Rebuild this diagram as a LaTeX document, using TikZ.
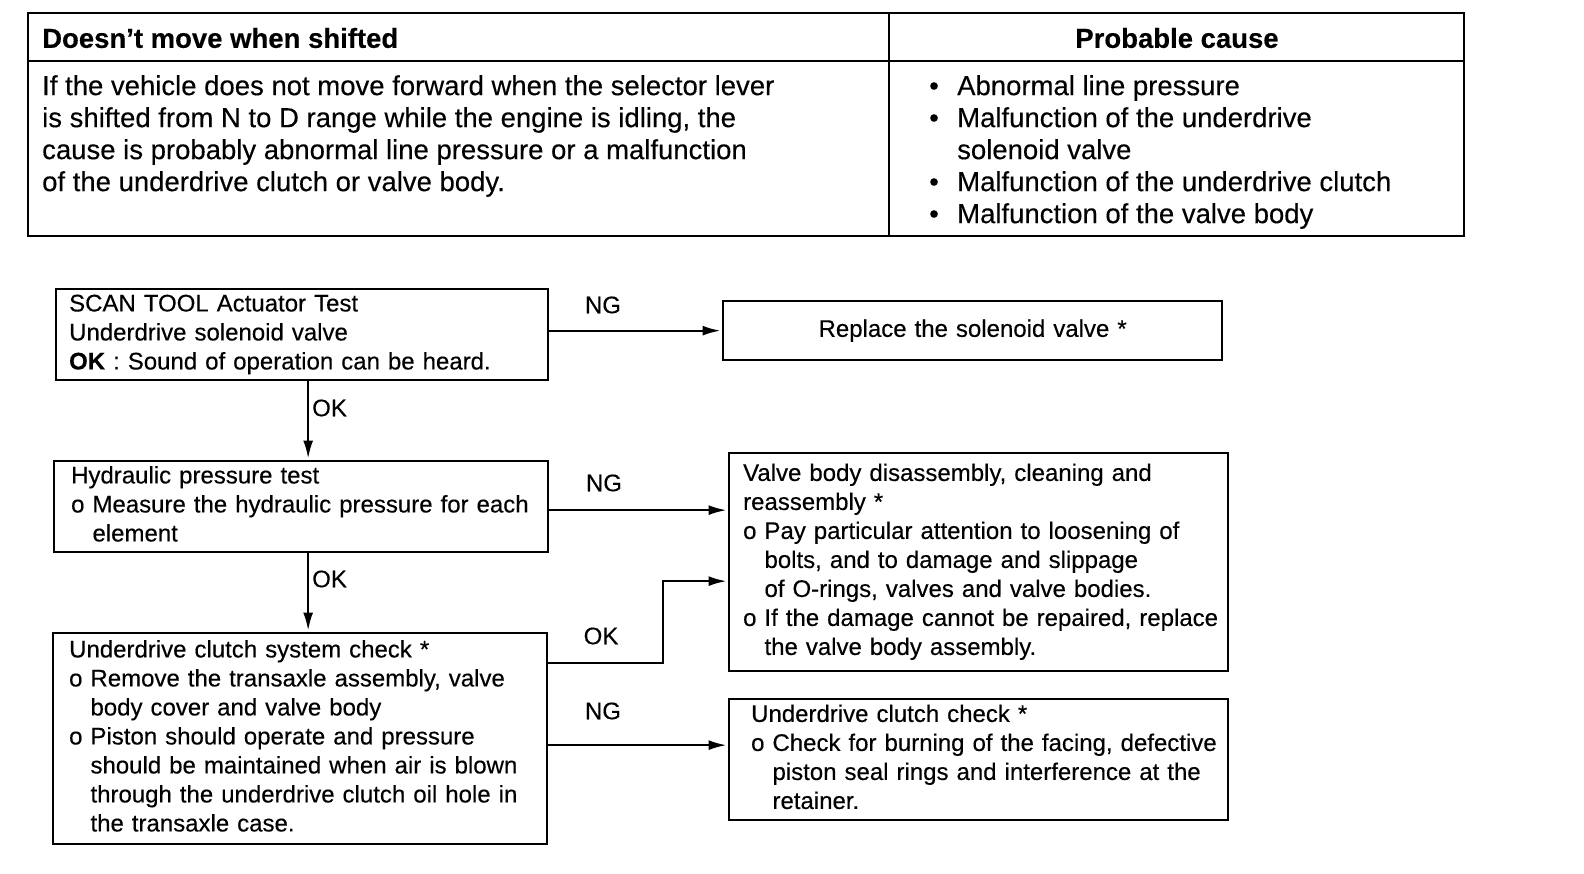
\documentclass[tikz,border=0pt]{standalone}
\usepackage{fontspec}
\setmainfont{Liberation Sans}[FakeBold=0.3]
\usetikzlibrary{arrows.meta,calc}
\begin{document}
\begin{tikzpicture}[x=1pt,y=-1pt,
  tab/.style={line width=2pt},
  tabtxt/.style={inner sep=0pt, font=\fontsize{27.5}{32}\selectfont},
  box/.style={draw, line width=2.3pt, anchor=north west, font=\fontsize{24}{29}\selectfont, inner ysep=0pt},
  lbl/.style={inner sep=0pt, font=\fontsize{24}{29}\selectfont},
  arr/.style={line width=2.2pt, -{Latex[length=18pt,width=10pt]}, shorten >=1.5pt}]
\useasboundingbox (0,0) rectangle (1584,874);
% ---- table ----
\draw[tab] (28,13) rectangle (1464,236);
\draw[tab] (28,61) -- (1464,61);
\draw[tab] (889,13) -- (889,236);
\node[tabtxt, anchor=west, font=\fontsize{27.5}{32}\selectfont\bfseries] (h1) at (42,38) {Doesn’t move when shifted};
\node[tabtxt, font=\fontsize{27.5}{32}\selectfont\bfseries] (h2) at (1177,38) {Probable cause};
\node[tabtxt, anchor=north west, align=left] (desc) at (42,75) {If the vehicle does not move forward when the selector lever\\is shifted from N to D range while the engine is idling, the\\cause is probably abnormal line pressure or a malfunction\\of the underdrive clutch or valve body.};
\node[tabtxt, anchor=north west, align=left] (causes) at (929,75) {\makebox[28pt][l]{•}Abnormal line pressure\\\makebox[28pt][l]{•}Malfunction of the underdrive\\\hspace*{28pt}solenoid valve\\\makebox[28pt][l]{•}Malfunction of the underdrive clutch\\\makebox[28pt][l]{•}Malfunction of the valve body};
% ---- flow boxes ----
\node[box, minimum width=492pt, minimum height=91pt, text width=466pt, inner xsep=13pt] (b1) at (55,288)
 {\begin{tabular}{@{}l@{}}SCAN TOOL Actuator Test\\Underdrive solenoid valve\\\textbf{OK} : Sound of operation can be heard.\end{tabular}};
\node[box, minimum width=499pt, minimum height=59pt, text width=485pt, inner xsep=0pt, align=center] (r1) at (722,300)
 {Replace the solenoid valve *};
\node[box, minimum width=494pt, minimum height=91pt, text width=460pt, inner xsep=17pt] (b2) at (53,460)
 {\begin{tabular}{@{}l@{}}Hydraulic pressure test\\o Measure the hydraulic pressure for each\\\hphantom{o }element\end{tabular}};
\node[box, minimum width=499pt, minimum height=218pt, text width=471pt, inner xsep=14pt] (r2) at (728,452)
 {\begin{tabular}{@{}l@{}}Valve body disassembly, cleaning and\\reassembly *\\o Pay particular attention to loosening of\\\hphantom{o }bolts, and to damage and slippage\\\hphantom{o }of O-rings, valves and valve bodies.\\o If the damage cannot be repaired, replace\\\hphantom{o }the valve body assembly.\end{tabular}};
\node[box, minimum width=494pt, minimum height=211pt, text width=462pt, inner xsep=16pt] (b3) at (52,632)
 {\begin{tabular}{@{}l@{}}Underdrive clutch system check *\\o Remove the transaxle assembly, valve\\\hphantom{o }body cover and valve body\\o Piston should operate and pressure\\\hphantom{o }should be maintained when air is blown\\\hphantom{o }through the underdrive clutch oil hole in\\\hphantom{o }the transaxle case.\end{tabular}};
\node[box, minimum width=499pt, minimum height=121pt, text width=455pt, inner xsep=22pt] (r3) at (728,698)
 {\begin{tabular}{@{}l@{}}Underdrive clutch check *\\o Check for burning of the facing, defective\\\hphantom{o }piston seal rings and interference at the\\\hphantom{o }retainer.\end{tabular}};
% ---- labels ----
\node[lbl] (ng1) at (603,305) {NG};
\node[lbl, anchor=west] (ok1) at (312,408) {OK};
\node[lbl] (ng2) at (604,483) {NG};
\node[lbl, anchor=west] (ok2) at (312,579) {OK};
\node[lbl] (ok3) at (601,636) {OK};
\node[lbl] (ng3) at (603,711) {NG};
% ---- connectors ----
\draw[arr] (b1.east |- r1.west) -- (r1.west);
\coordinate (d1) at ($(b1.south)+(6,0)$);
\draw[arr] (d1) -- (d1 |- b2.north);
\coordinate (c2) at ($(b2.east)+(0,3.5)$);
\draw[arr] (c2) -- (c2 -| r2.west);
\coordinate (d2) at ($(b2.south)+(7,0)$);
\draw[arr] (d2) -- (d2 |- b3.north);
\coordinate (c3) at ($(b3.north east)+(0,31)$);
\coordinate (c3t) at ($(r2.west)+(0,19)$);
\draw[arr] (c3) -- ++(115,0) |- (c3t);
\coordinate (c4) at ($(b3.east)+(0,6.5)$);
\draw[arr] (c4) -- (c4 -| r3.west);
\end{tikzpicture}
\end{document}
